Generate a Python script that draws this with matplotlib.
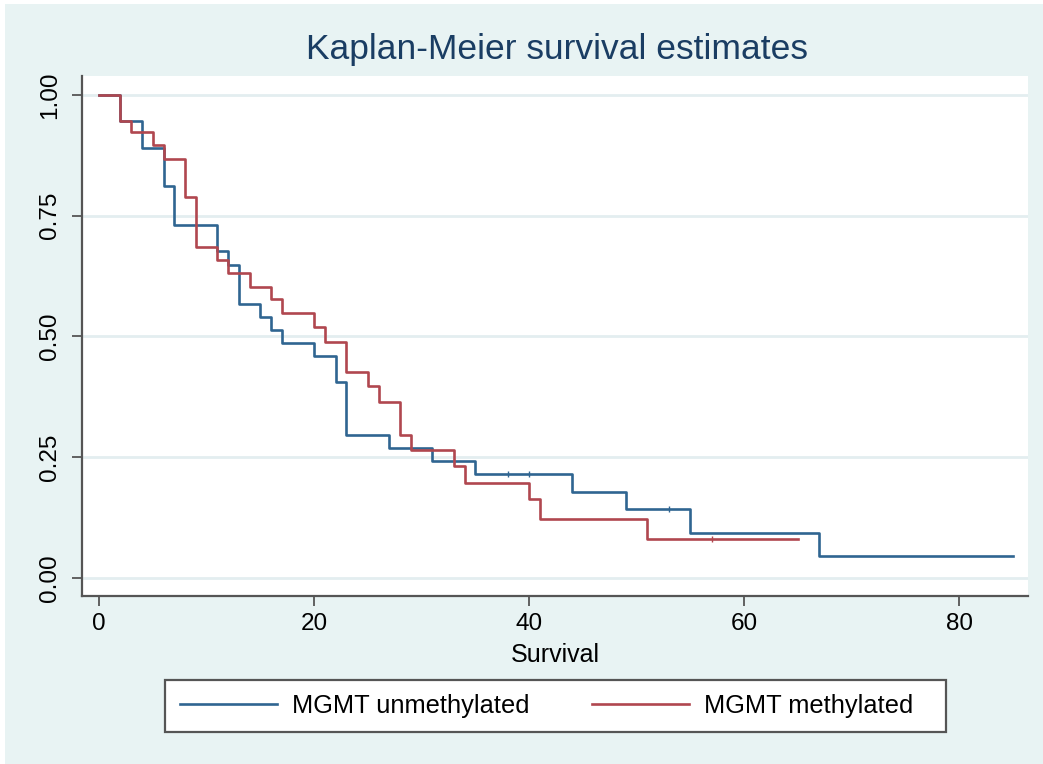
import matplotlib
matplotlib.use("Agg")
import matplotlib.pyplot as plt
from matplotlib.patches import Rectangle

# ---- data ----
unmeth_time = [0, 2, 4, 6, 7, 11, 12, 13, 15, 16, 17, 20, 22, 23, 27, 31, 35, 44, 49, 55, 67, 85]
unmeth_surv = [1.0, 0.947, 0.891, 0.811, 0.730, 0.676, 0.649, 0.567, 0.541, 0.513, 0.486,
               0.460, 0.405, 0.297, 0.270, 0.242, 0.215, 0.179, 0.142, 0.094, 0.046, 0.046]
unmeth_cens_time = [38, 40, 53]
unmeth_cens_surv = [0.215, 0.215, 0.142]

meth_time = [0, 2, 3, 5, 6, 8, 9, 11, 12, 14, 16, 17, 20, 21, 23, 25, 26, 28, 29, 33, 34, 40, 41, 51, 65]
meth_surv = [1.0, 0.947, 0.923, 0.896, 0.868, 0.789, 0.685, 0.658, 0.632, 0.603, 0.577, 0.548,
             0.520, 0.489, 0.427, 0.397, 0.365, 0.296, 0.264, 0.232, 0.197, 0.163, 0.122, 0.081, 0.081]
meth_cens_time = [57]
meth_cens_surv = [0.081]

series_labels = ["MGMT unmethylated", "MGMT methylated"]
x_ticks = [0, 20, 40, 60, 80]
y_ticks = [0.0, 0.25, 0.50, 0.75, 1.00]
y_ticklabels = ["0.00", "0.25", "0.50", "0.75", "1.00"]
title = "Kaplan-Meier survival estimates"
x_label = "Survival"

# ---- style ----
plt.rcParams['font.family'] = ['Liberation Sans', 'DejaVu Sans']
BG = '#E8F3F3'
BLUE = '#2f6591'
RED = '#b0474f'
AXC = '#555555'

W, H = 1043, 764
fig = plt.figure(figsize=(W / 100, H / 100), dpi=100, facecolor='white')
fig.patches.append(Rectangle((5 / W, 0), 1 - 5 / W, 1 - 4 / H, transform=fig.transFigure,
                             facecolor=BG, edgecolor='none', zorder=-10))

ax = fig.add_axes([82 / W, 1 - 596 / H, (1028 - 82) / W, (596 - 76) / H])
ax.set_facecolor('white')

ax.step(unmeth_time, unmeth_surv, where='post', color=BLUE, lw=1.9, label=series_labels[0], zorder=3)
ax.step(meth_time, meth_surv, where='post', color=RED, lw=1.9, label=series_labels[1], zorder=4)
ax.plot(unmeth_cens_time, unmeth_cens_surv, ls='none', marker='|', ms=4, mew=1.0, color=BLUE, zorder=3)
ax.plot(meth_cens_time, meth_cens_surv, ls='none', marker='|', ms=4, mew=1.0, color=RED, zorder=4)

ax.set_xlim(-1.58, 86.4)
ax.set_ylim(-0.0373, 1.0393)
ax.set_xticks(x_ticks)
ax.set_yticks(y_ticks)
ax.set_yticklabels(y_ticklabels)
for lab in ax.get_yticklabels():
    lab.set_rotation(90)
    lab.set_va('center')

ax.yaxis.grid(True, color='#E3EEF0', lw=2.0, zorder=0)
ax.xaxis.grid(False)
ax.set_axisbelow(True)

for s in ['top', 'right']:
    ax.spines[s].set_visible(False)
for s in ['left', 'bottom']:
    ax.spines[s].set_color(AXC)
    ax.spines[s].set_linewidth(1.6)

ax.tick_params(axis='both', direction='out', length=7, width=1.3, color=AXC,
               labelsize=17.5, labelcolor='black')
ax.tick_params(axis='y', pad=8)
ax.tick_params(axis='x', pad=5)

ax.set_xlabel(x_label, fontsize=18, va='center')
ax.xaxis.set_label_coords(0.5, (596 - 655) / (596 - 76))

fig.text(556.5 / W, 1 - 50 / H, title, ha='center', va='center', fontsize=25.5, color='#1a3d63')

# legend box drawn as a rectangle, entries placed inside
fig.patches.append(Rectangle((165 / W, 1 - 732 / H), (946 - 165) / W, (732 - 680) / H,
                             transform=fig.transFigure, facecolor='white', edgecolor=AXC,
                             linewidth=1.6, zorder=1))
leg = fig.legend(loc='center left', bbox_to_anchor=(180 / W, 1 - 706 / H), ncol=2, fontsize=18.3,
                 handlelength=3.8, handletextpad=0.62, columnspacing=2.45, borderpad=0.0,
                 borderaxespad=0.0, frameon=False)
leg.set_zorder(5)

fig.savefig('out.png', dpi=100, facecolor=fig.get_facecolor())
